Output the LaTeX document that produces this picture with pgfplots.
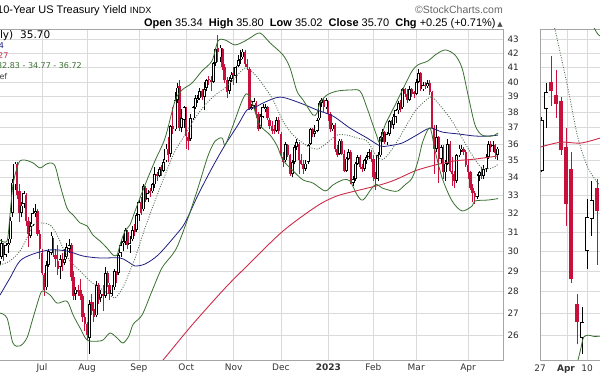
\documentclass[border=0pt]{standalone}
\usepackage{pgfplots}
\pgfplotsset{compat=1.18}
\usepackage{pgfplotstable}
\usepackage{fontspec}
\setmainfont{Liberation Sans}
\newfontfamily\dv{DejaVu Sans}
\definecolor{cred}{RGB}{200,16,60}
\definecolor{cgreen}{RGB}{56,112,48}
\definecolor{cdot}{RGB}{85,115,85}
\definecolor{cblue}{RGB}{30,30,130}
\definecolor{cma}{RGB}{205,45,75}
\definecolor{cgrid}{RGB}{218,218,218}
\definecolor{cframe}{RGB}{165,165,165}

\pgfplotstableread{
i o h l c
0 29.3 29.8 29.1 29.5
1 29.7 30.6 29.6 30.4
3 29.8 30.4 29.7 30.3
4 30.3 30.6 29.9 30.4
5 30.6 31.8 30.4 31.6
6 32.0 33.9 31.8 33.7
7 33.6 34.9 33.3 34.8
10 32.0 32.6 31.8 32.4
11 32.5 33.2 32.3 33.1
14 30.8 31.5 30.7 31.3
15 31.4 32.3 31.3 32.0
16 32.0 32.5 31.8 32.1
21 28.2 29.5 28.1 29.3
22 29.3 30.1 29.2 30.0
23 29.9 31.0 29.8 30.8
27 29.2 29.8 28.6 29.6
29 29.4 30.1 29.3 29.6
30 29.7 30.4 29.6 30.2
31 30.1 30.6 29.9 30.3
34 27.9 28.2 27.6 28.1
40 25.9 27.6 25.2 27.4
43 26.9 28.5 26.8 28.3
45 27.7 28.1 27.5 27.9
47 27.8 29.2 27.7 28.9
50 27.9 28.3 27.8 28.1
51 28.2 29.1 28.1 29.0
53 28.9 29.9 28.8 29.8
54 29.9 30.5 29.7 30.3
55 30.4 30.9 30.0 30.5
56 30.5 31.2 30.3 31.1
58 30.3 30.8 29.9 30.4
59 30.6 31.3 30.5 31.1
61 31.1 32.0 31.0 31.9
62 31.9 32.7 31.6 32.6
64 32.2 33.6 32.1 33.5
66 32.8 33.3 32.6 33.1
68 33.2 33.7 33.1 33.6
69 33.6 34.6 33.4 34.2
71 34.1 34.6 34.0 34.5
73 34.4 35.1 34.3 34.9
74 35.0 36.0 34.9 35.7
76 35.4 37.2 35.2 37.1
78 36.9 39.3 36.8 38.8
79 38.8 39.9 38.6 39.6
81 37.0 38.2 36.7 37.6
82 37.5 38.4 37.0 38.3
85 36.3 37.9 36.2 37.6
86 37.6 38.4 37.5 38.3
87 38.3 39.1 38.2 38.9
88 38.8 39.1 38.6 38.9
89 38.9 39.6 38.8 39.4
91 39.0 40.0 38.1 39.5
92 39.6 40.2 39.4 40.1
95 40.0 41.4 39.9 41.3
96 41.3 42.4 41.1 42.3
98 41.7 42.6 41.4 42.4
102 39.4 40.3 39.2 40.1
103 40.2 40.7 40.0 40.5
105 40.4 41.1 39.9 41.0
106 41.1 41.9 41.0 41.5
107 41.5 42.2 41.2 41.6
108 41.7 42.3 41.6 42.1
112 38.2 38.5 38.1 38.3
113 38.4 38.9 38.2 38.7
116 37.0 37.9 36.9 37.7
117 37.7 38.5 37.6 38.3
118 38.2 38.5 38.0 38.3
123 36.8 37.7 36.7 37.5
127 35.0 36.1 34.9 36.0
130 34.2 35.0 34.0 34.9
131 34.9 35.9 34.8 35.8
132 35.8 36.3 35.6 36.1
136 34.5 35.0 34.4 34.8
137 34.9 36.0 34.8 35.9
138 36.0 37.0 35.9 36.9
140 36.6 37.2 36.4 36.8
141 36.8 37.6 36.7 37.5
142 37.6 38.7 37.5 38.6
143 38.6 38.9 38.3 38.8
145 38.3 38.9 38.2 38.8
148 36.9 37.3 36.8 37.2
151 35.4 36.3 35.3 36.2
154 34.4 35.2 34.3 35.1
155 35.1 35.7 35.0 35.5
157 33.7 34.1 33.5 33.9
158 33.9 34.9 33.8 34.8
159 34.8 35.3 34.7 35.2
162 34.5 35.1 34.4 35.0
163 35.0 35.3 34.8 35.2
164 35.2 35.7 35.1 35.5
168 33.9 35.5 33.8 35.3
169 35.3 36.5 35.2 36.4
170 36.4 36.9 36.1 36.7
172 36.1 36.7 35.9 36.6
173 36.6 37.5 36.5 37.4
175 37.2 37.9 36.9 37.7
176 37.7 38.2 37.3 38.1
177 38.1 38.7 37.9 38.6
179 38.3 39.6 38.2 39.5
182 38.8 39.7 38.7 39.5
185 39.2 40.2 39.1 40.0
186 40.0 40.9 39.9 40.6
188 39.5 40.0 39.4 39.8
190 39.7 40.1 39.6 39.9
194 35.7 37.2 35.5 36.4
196 35.1 35.9 34.8 35.8
198 34.3 35.0 33.8 34.8
199 34.8 36.3 34.7 36.0
203 33.8 35.4 33.7 35.3
204 35.3 35.9 35.2 35.7
205 35.6 35.9 35.5 35.7
212 32.9 34.2 32.8 34.1
213 34.1 34.4 33.8 34.3
215 34.1 34.7 33.9 34.5
216 34.5 35.4 34.3 35.2
217 35.2 36.2 35.1 36.0
219 35.8 36.2 35.5 35.9
221 35.34 35.80 35.02 35.70
}\upT

\pgfplotstableread{
i o h l c
2 30.3 30.4 29.5 29.8
8 34.8 34.9 32.8 33.0
9 33.2 33.6 31.5 32.0
12 33.0 33.1 31.3 31.6
13 31.6 31.8 30.2 30.9
17 32.1 32.2 30.8 30.9
18 30.9 31.1 29.6 30.1
19 29.9 30.1 28.8 28.9
20 28.8 28.9 27.8 28.1
24 30.6 30.7 29.7 29.9
25 29.8 30.1 29.2 29.6
26 29.5 30.3 28.8 29.1
28 29.6 29.9 29.0 29.3
32 30.3 30.4 28.5 28.7
33 28.7 29.0 27.6 27.8
35 28.1 28.3 27.8 28.0
36 28.1 28.6 27.6 27.8
37 27.8 27.9 26.6 26.8
38 26.8 27.0 26.2 26.5
39 26.5 26.6 25.8 26.0
41 27.5 27.9 26.9 27.1
42 27.2 27.5 26.6 26.8
44 28.3 28.4 27.4 27.6
46 27.9 28.3 27.1 27.8
48 28.9 29.0 28.2 28.4
49 28.3 28.4 27.6 27.9
52 28.9 29.0 28.4 28.8
57 31.0 31.1 30.1 30.3
60 31.1 31.4 30.8 31.0
63 32.6 32.9 31.9 32.0
65 33.4 33.5 32.6 32.7
67 33.2 33.4 32.9 33.1
70 34.2 34.3 33.8 34.1
72 34.6 34.7 34.1 34.4
75 35.7 36.4 34.9 35.3
77 37.1 38.3 36.6 36.9
80 39.7 40.1 36.8 37.0
83 38.0 38.3 35.7 36.5
84 36.4 36.7 35.6 36.2
90 39.4 39.5 38.8 39.0
93 40.2 40.4 39.8 40.1
94 40.1 40.4 39.4 40.0
97 42.4 43.3 41.4 42.1
99 42.3 42.4 40.8 41.0
100 41.0 41.2 39.9 40.1
101 40.1 40.3 38.9 39.3
104 40.6 41.0 39.8 40.4
109 42.1 42.2 41.0 41.2
110 41.2 41.6 40.8 41.0
111 40.9 41.0 38.1 38.2
114 38.6 38.7 37.6 37.9
115 37.9 38.0 36.8 36.9
119 38.3 38.4 37.5 37.6
120 37.5 37.6 36.9 37.1
121 37.1 37.4 36.6 36.8
122 36.9 37.2 36.6 36.8
124 37.5 37.7 36.6 36.8
125 36.6 36.7 35.2 35.3
126 35.2 35.5 34.6 34.9
128 35.9 36.0 35.2 35.3
129 35.3 35.4 34.1 34.2
133 36.0 36.1 34.2 35.0
134 35.0 35.4 34.7 34.8
135 34.8 35.0 34.2 34.5
139 36.9 37.0 36.4 36.7
144 38.8 38.9 38.0 38.3
146 38.6 38.7 37.4 37.9
147 37.9 38.0 36.7 36.9
149 37.2 37.3 35.5 35.7
150 35.7 35.9 35.2 35.3
152 36.2 36.3 35.3 35.4
153 35.4 35.6 34.3 34.4
156 35.5 35.6 33.6 33.7
160 35.2 35.3 34.5 34.6
161 34.6 34.8 34.3 34.5
165 35.5 35.6 34.9 35.1
166 35.1 35.3 33.8 34.0
167 34.0 34.3 33.3 33.9
171 36.7 36.8 36.0 36.1
174 37.4 37.5 37.0 37.2
178 38.6 38.8 38.0 38.2
180 39.5 39.6 39.0 39.2
181 39.2 39.5 38.6 38.8
183 39.5 39.6 39.0 39.2
184 39.3 39.4 38.9 39.2
187 40.6 40.7 39.4 39.5
189 39.8 40.0 39.5 39.7
191 39.9 40.1 39.1 39.3
192 39.3 39.4 36.9 37.0
193 37.0 37.2 34.2 35.7
195 36.4 36.5 33.7 35.1
197 35.8 35.9 33.9 34.3
200 36.0 36.2 34.3 34.4
201 34.4 35.2 33.5 34.2
202 34.2 34.4 33.4 33.8
206 35.7 35.8 35.3 35.5
207 35.5 35.6 34.6 34.7
208 34.7 35.0 33.9 34.3
209 34.3 34.4 33.3 33.4
210 33.4 33.6 32.6 33.1
211 33.1 33.2 32.5 32.9
214 34.3 34.6 33.9 34.1
218 36.0 36.2 35.5 35.8
220 35.9 36.0 35.1 35.45
}\dnT

\pgfplotstableread{
i o h l c
0.8 34.4 37.7 34.3 37.5
5.5 38.2 39.9 37.0 39.3
41.5 25.9 27.3 25.2 26.6
46.5 30.0 32.8 29.1 31.8
51.0 31.7 33.8 30.8 32.7
}\rupT
\pgfplotstableread{
i o h l c
10.5 40.0 41.8 38.4 39.4
15.5 39.1 40.8 37.6 38.5
20.5 38.7 39.0 35.3 35.6
25.5 35.8 37.0 31.3 32.5
30.5 34.5 35.5 28.4 28.6
36.5 27.4 27.9 25.6 26.6
56.5 33.4 33.9 29.3 32.1
}\rdnT

\begin{document}
\begin{tikzpicture}[x=1pt,y=1pt]
\useasboundingbox (0,0) rectangle (600,376);
\clip (0,0) rectangle (600,376);

\begin{axis}[scale only axis, anchor=south west, at={(-1pt,16pt)}, width=504pt, height=331pt,
  ymode=log, ymin=24.93, ymax=43.76, ytick={26,...,43},
  xmin=-0.075, xmax=223.5,
  grid=major, major grid style={cgrid, line width=0.6pt},
  axis line style={cframe, line width=0.6pt}, major tick length=0pt,
  xtick={19,39,62,83,104,125,146,166,185,208},
  xticklabels={Jul,Aug,Sep,Oct,Nov,Dec,\textbf{2023},Feb,Mar,Apr},
  xticklabel style={font=\dv\fontsize{9}{10}\selectfont, text=black!80, yshift=-0.5pt},
  yticklabel pos=right,
  yticklabels={26,27,28,29,30,31,32,33,34,35,36,37,38,39,40,41,42,43},
  yticklabel style={font=\dv\fontsize{8.8}{10}\selectfont, text=black!85, xshift=1pt}]
% candles: wicks
\addplot[draw=none, mark=none, forget plot, error bars/y dir=plus, error bars/y explicit,
  error bars/error mark=none, error bars/error bar style={line width=0.7pt, draw=cred}]
  table[x=i, y=l, y error plus expr=\thisrow{h}-\thisrow{l}] {\dnT};
\addplot[draw=none, mark=none, forget plot, error bars/y dir=plus, error bars/y explicit,
  error bars/error mark=none, error bars/error bar style={line width=0.7pt, draw=black}]
  table[x=i, y=l, y error plus expr=\thisrow{h}-\thisrow{l}] {\upT};
% bodies
\addplot[draw=none, mark=none, forget plot, error bars/y dir=plus, error bars/y explicit,
  error bars/error mark=none, error bars/error bar style={line width=2.4pt, draw=cred}]
  table[x=i, y=c, y error plus expr=\thisrow{o}-\thisrow{c}] {\dnT};
\addplot[draw=none, mark=none, forget plot, error bars/y dir=plus, error bars/y explicit,
  error bars/error mark=none, error bars/error bar style={line width=3pt, draw=black}]
  table[x=i, y=o, y error plus expr=\thisrow{c}-\thisrow{o}] {\upT};
\addplot[draw=none, mark=none, forget plot, error bars/y dir=plus, error bars/y explicit,
  error bars/error mark=none, error bars/error bar style={line width=1.2pt, draw=white, shorten <=0.7pt, shorten >=0.7pt}]
  table[x=i, y=o, y error plus expr=\thisrow{c}-\thisrow{o}] {\upT};
% 200-day MA
\addplot[cma, line width=0.9pt, smooth] coordinates {
(71.0,24.80)(72.7,24.93)(85.5,26.45)(100.2,28.17)(111.3,29.40)(125.9,31.04)(141.0,32.39)(149.9,32.95)(160.1,33.29)(169.0,33.57)(175.6,33.86)(184.5,34.38)(193.4,34.73)(202.2,34.97)(211.1,35.08)(221.3,35.27)};
% 50-day MA
\addplot[cblue, line width=0.8pt, smooth] coordinates {
(0.37,27.84)(4.8,28.66)(9.2,29.50)(15.0,29.85)(22.6,30.06)(30.1,30.00)(37.2,29.75)(44.7,29.65)(53.6,29.65)(58.0,29.40)(60.3,29.25)(64.7,29.35)(70.5,29.80)(78.0,30.78)(82.4,31.47)(88.2,33.00)(94.4,34.55)(100.2,35.93)(105.9,37.17)(109.9,38.13)(113.5,38.30)(117.1,38.59)(124.6,38.98)(133.5,38.59)(141.0,38.13)(148.1,37.74)(155.6,36.98)(163.2,36.36)(169.0,35.87)(172.5,35.87)(178.7,36.05)(184.5,36.48)(191.1,36.98)(196.5,36.73)(203.6,36.61)(211.1,36.48)(216.9,36.48)(221.3,36.54)};
% Bollinger middle
\addplot[cdot, line width=0.9pt, dash pattern=on 1pt off 1.5pt, smooth] coordinates {
(0.37,29.30)(4.8,29.50)(9.2,30.00)(12.3,30.68)(15.0,31.36)(18.1,31.47)(22.6,31.36)(25.7,30.83)(28.3,30.16)(31.4,29.50)(35.9,29.00)(40.3,28.51)(44.7,28.17)(49.2,27.84)(51.4,27.70)(54.9,28.2)(58.0,29.0)(60.3,29.65)(64.7,31.20)(69.1,32.67)(73.6,34.15)(78.0,35.56)(82.4,36.54)(86.9,37.61)(91.3,38.45)(95.8,39.12)(100.2,39.59)(104.6,40.27)(108.5,40.9)(111.3,40.8)(114.4,40.34)(117.1,39.79)(121.5,38.8)(125.9,37.42)(130.4,36.54)(136.6,35.87)(141.0,35.68)(143.7,35.87)(145.4,36.05)(149.9,36.54)(154.3,36.54)(158.8,36.36)(163.2,36.17)(166.7,35.4)(169.0,35.1)(171.2,35.14)(175.6,35.93)(180.0,36.98)(184.5,38.06)(188.9,38.72)(192.0,38.98)(196.5,38.26)(200.9,37.42)(205.3,36.36)(209.8,35.32)(214.2,34.55)(218.6,34.55)(221.3,34.77)};
% Bollinger upper
\addplot[cgreen, line width=0.8pt, smooth] coordinates {
(0.37,30.57)(3.5,30.52)(4.8,31.90)(6.1,33.57)(7.9,34.55)(9.2,34.97)(11.5,35.02)(15.0,34.85)(18.1,34.55)(20.3,34.73)(22.6,34.85)(24.8,34.67)(27.0,33.57)(30.1,32.28)(32.8,31.90)(35.9,31.47)(39.0,31.31)(41.6,30.83)(44.7,30.52)(47.8,30.16)(50.5,29.80)(52.3,29.80)(53.6,30.31)(55.8,31.04)(58.0,31.36)(60.3,32.12)(64.7,33.57)(69.1,34.97)(73.6,36.36)(78.0,38.72)(81.1,39.45)(85.5,39.92)(90.0,40.75)(94.4,41.45)(97.1,42.88)(100.2,42.95)(104.6,42.59)(109.1,42.88)(111.3,43.10)(115.7,43.46)(120.2,42.73)(125.9,41.87)(129.0,40.96)(132.1,39.38)(134.8,38.79)(139.2,37.81)(141.0,37.93)(142.3,38.59)(145.4,39.12)(149.9,39.38)(155.6,39.45)(160.1,39.38)(163.2,38.26)(165.8,37.17)(167.5,36.5)(168.8,36.1)(171.2,37.17)(175.6,38.45)(180.0,39.79)(183.2,40.75)(185.8,41.17)(190.3,41.45)(193.4,41.87)(197.8,42.23)(202.2,41.87)(205.3,40.96)(208.0,39.12)(211.1,37.17)(214.2,36.54)(218.6,36.48)(221.3,36.67)};
% Bollinger lower
\addplot[cgreen, line width=0.8pt, smooth] coordinates {
(0.37,27.00)(3.5,26.77)(6.1,25.66)(9.2,25.53)(12.3,25.88)(15.0,26.77)(18.1,27.84)(19.4,28.03)(22.6,27.84)(25.7,27.46)(30.1,27.55)(32.8,26.91)(35.9,26.32)(39.0,25.79)(43.4,25.74)(46.1,25.79)(49.2,26.10)(52.3,25.88)(54.9,25.66)(57.5,25.96)(59.5,26.5)(63.4,26.91)(67.8,28.03)(72.2,29.15)(76.7,29.80)(79.3,30.31)(83.8,31.74)(88.2,33.40)(92.6,35.26)(95.8,36.17)(98.9,36.36)(100.2,35.93)(103.3,36.98)(107.7,38.72)(109.9,39.2)(112.2,38.6)(115.7,37.17)(120.2,36.54)(123.3,35.87)(125.9,35.02)(130.4,34.38)(134.8,33.86)(139.2,33.68)(144.6,33.23)(148.1,33.57)(152.5,33.86)(155.6,33.80)(158.8,33.00)(161.4,32.72)(165.4,33.40)(167.5,33.6)(169.8,33.40)(174.3,33.23)(176.9,33.23)(180.0,33.57)(183.2,33.97)(185.8,34.97)(188.0,36.17)(191.1,36.98)(193.4,35.56)(196.5,33.97)(200.9,32.67)(205.3,32.12)(209.8,32.39)(211.1,32.67)(216.9,32.72)(221.3,32.80)};
\end{axis}

\begin{axis}[scale only axis, anchor=south west, at={(540.7pt,16pt)}, width=70pt, height=331pt,
  ymode=log, ymin=24.93, ymax=43.76, ytick={26,...,43}, yticklabels={},
  xmin=0, xmax=70, xtick={26.3,46.3}, xticklabels={},
  grid=major, major grid style={cgrid, line width=0.6pt},
  axis line style={cframe, line width=0.6pt}, major tick length=0pt]
\addplot[draw=none, mark=none, forget plot, error bars/y dir=plus, error bars/y explicit,
  error bars/error mark=none, error bars/error bar style={line width=0.8pt, draw=cred}]
  table[x=i, y=l, y error plus expr=\thisrow{h}-\thisrow{l}] {\rdnT};
\addplot[draw=none, mark=none, forget plot, error bars/y dir=plus, error bars/y explicit,
  error bars/error mark=none, error bars/error bar style={line width=0.8pt, draw=black}]
  table[x=i, y=l, y error plus expr=\thisrow{h}-\thisrow{l}] {\rupT};
\addplot[draw=none, mark=none, forget plot, error bars/y dir=plus, error bars/y explicit,
  error bars/error mark=none, error bars/error bar style={line width=3.8pt, draw=cred}]
  table[x=i, y=c, y error plus expr=\thisrow{o}-\thisrow{c}] {\rdnT};
\addplot[draw=none, mark=none, forget plot, error bars/y dir=plus, error bars/y explicit,
  error bars/error mark=none, error bars/error bar style={line width=4.2pt, draw=black}]
  table[x=i, y=o, y error plus expr=\thisrow{c}-\thisrow{o}] {\rupT};
\addplot[draw=none, mark=none, forget plot, error bars/y dir=plus, error bars/y explicit,
  error bars/error mark=none, error bars/error bar style={line width=2.6pt, draw=white, shorten <=0.8pt, shorten >=0.8pt}]
  table[x=i, y=o, y error plus expr=\thisrow{c}-\thisrow{o}] {\rupT};
\addplot[cma, line width=0.9pt, smooth] coordinates {(0,35.81)(20,36.1)(40,36.05)(60,36.36)(70,36.5)};
\addplot[cdot, line width=0.9pt, dash pattern=on 1pt off 1.5pt, smooth] coordinates {(13,44.0)(15,43.5)(27,39.65)(37,36.42)(47,34.6)(57,33.68)(62,33.5)};
\addplot[cgreen, line width=0.8pt, smooth] coordinates {(50,44.2)(53,43.9)(56,43.5)(60,43.2)(70,43.0)};
\addplot[cgreen, line width=0.8pt, smooth] coordinates {(36,24.7)(40,25.4)(43,25.92)(48,26.0)(53,25.95)(60,25.96)(70,26.0)};
\end{axis}

% texts
\node[anchor=base west, inner sep=0, font=\fontsize{11}{13}\selectfont] at (-3,362.7)
  {10-Year US Treasury Yield {\fontsize{9}{11}\selectfont INDX}};
\node[anchor=base east, inner sep=0, font=\fontsize{10.5}{12}\selectfont, text=black!60] at (503,362.8)
  {©StockCharts.com};
\node[anchor=base east, inner sep=0, font=\fontsize{11}{13}\selectfont] at (503,349.5)
  {\textbf{Open} 35.34\ \ \textbf{High} 35.80\ \ \textbf{Low} 35.02\ \ \textbf{Close} 35.70\ \ \textbf{Chg} +0.25 (+0.71\%)\,{\dv\fontsize{7}{8}\selectfont\color{black!70}▲}};
\node[anchor=base east, inner sep=0, font=\dv\fontsize{10.5}{12}\selectfont] at (13.5,337.5) {\$TNX (Daily)};
\node[anchor=base east, inner sep=0, font=\dv\fontsize{10.5}{12}\selectfont] at (50.5,337.5) {35.70};
\node[anchor=base east, inner sep=0, font=\dv\fontsize{8}{10}\selectfont, text=cblue] at (4.3,328) {- MA(50) 36.54};
\node[anchor=base east, inner sep=0, font=\dv\fontsize{8}{10}\selectfont, text=cma] at (8.6,317.8) {- MA(200) 35.27};
\node[anchor=base east, inner sep=0, font=\dv\fontsize{8}{10}\selectfont, text=cgreen] at (82,307.3) {- BB(20,2.0) 32.83 - 34.77 - 36.72};
\node[anchor=base east, inner sep=0, font=\dv\fontsize{8}{10}\selectfont, text=black!75] at (7.5,297) {- Volume undef};
% right panel date labels
\node[anchor=base, inner sep=0, font=\dv\fontsize{9}{10}\selectfont, text=black!80] at (540,4.5) {27};
\node[anchor=base, inner sep=0, font=\dv\bfseries\fontsize{9}{10}\selectfont, text=black!80] at (566,4.5) {Apr};
\node[anchor=base, inner sep=0, font=\dv\fontsize{9}{10}\selectfont, text=black!80] at (587,4.5) {10};
\end{tikzpicture}
\end{document}
